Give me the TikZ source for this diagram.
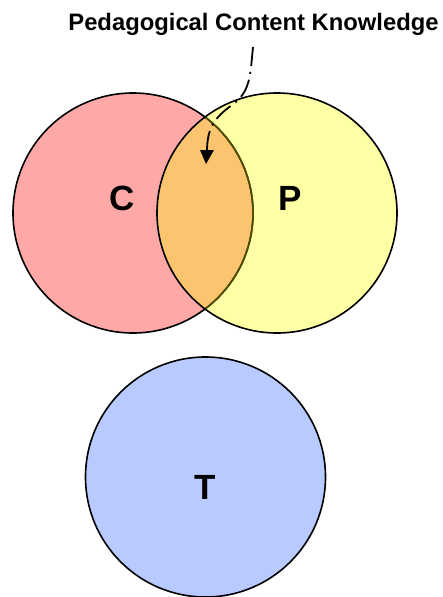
\documentclass[tikz,border=0pt]{standalone}
\usepackage{fontspec}
\setmainfont{Liberation Sans}
\usetikzlibrary{arrows.meta,calc}
\definecolor{cpink}{RGB}{255,168,168}
\definecolor{pyellow}{RGB}{255,255,166}
\definecolor{overlap}{RGB}{252,196,110}
\definecolor{tblue}{RGB}{184,202,255}
\definecolor{olive}{RGB}{80,80,0}
\tikzset{
  ring/.style={line width=1.6pt},
  biglabel/.style={font=\fontsize{35}{40}\selectfont\bfseries, anchor=base, inner sep=0pt},
  titlelabel/.style={font=\fontsize{23.8}{28}\selectfont\bfseries, anchor=base, inner sep=0pt},
  pointer/.style={line width=1.8pt, dash pattern=on 19pt off 6pt on 2pt off 6pt},
  pointerhead/.style={line width=0.1pt, solid, draw=none, fill=black}
}
\begin{document}
\begin{tikzpicture}[x=1pt,y=-1pt]
\useasboundingbox (0,0) rectangle (443,597);
\coordinate (cc) at (133,213);
\coordinate (pc) at (277,213);
\coordinate (tc) at (205.5,477);
% fills
\fill[cpink] (cc) circle (120);
\fill[pyellow] (pc) circle (120);
\begin{scope}
  \clip (cc) circle (120);
  \fill[overlap] (pc) circle (120);
\end{scope}
\fill[tblue] (tc) circle (120);
% outlines
\draw[ring] (cc) circle (120);
\begin{scope}
  \clip (pc) circle (120);
  \draw[ring, olive] (cc) circle (120);
\end{scope}
\draw[ring] (pc) circle (120);
\draw[ring] (tc) circle (120);
% labels
\node[biglabel] (lc) at (122,210.5) {C};
\node[biglabel] (lp) at (290,210.5) {P};
\node[biglabel] (lt) at (205,499) {T};
\node[titlelabel] (title) at (253.5,30) {Pedagogical Content Knowledge};
\coordinate (pstart) at (253,47);
\coordinate (ptip) at (206,164);
\coordinate (pbase) at (207,150);
\draw[pointer] (pstart) .. controls (250,78) and (250,92) .. (232,105)
  .. controls (214,118) and (207.5,128) .. (pbase);
\fill[pointerhead] (ptip) -- ($(pbase)+(-7,0)$) -- ($(pbase)+(7,0)$) -- cycle;
\end{tikzpicture}
\end{document}
